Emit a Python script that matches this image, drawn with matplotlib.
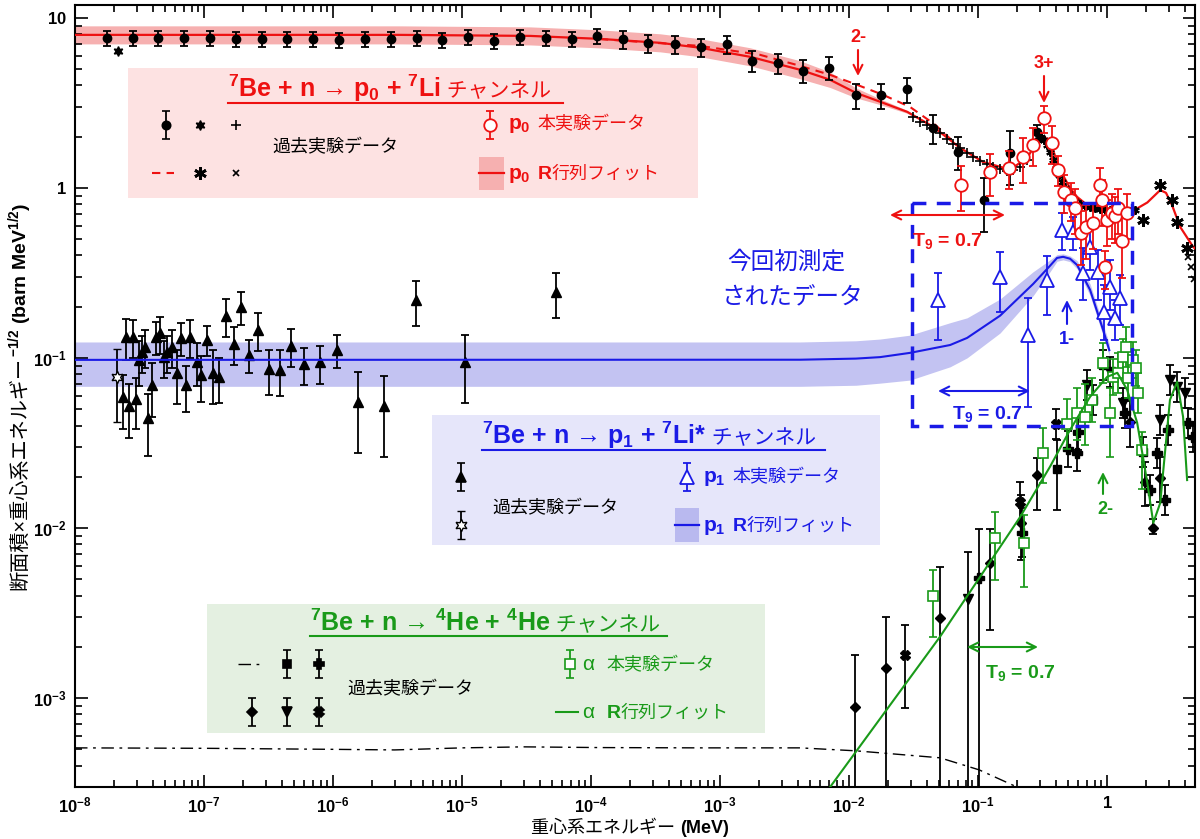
import numpy as np
import matplotlib
matplotlib.use("Agg")
import matplotlib.pyplot as plt
from matplotlib.patches import Rectangle
from matplotlib.ticker import LogLocator, FixedLocator, FuncFormatter, NullFormatter

plt.rcParams["font.family"] = ["Liberation Sans", "Noto Sans CJK JP", "DejaVu Sans"]
plt.rcParams["mathtext.fontset"] = "custom"
plt.rcParams["mathtext.rm"] = "Liberation Sans"
plt.rcParams["mathtext.it"] = "Liberation Sans:italic"
plt.rcParams["mathtext.bf"] = "Liberation Sans:bold"
plt.rcParams["mathtext.sf"] = "Liberation Sans"
plt.rcParams["mathtext.default"] = "bf"

RED = "#ee1111"
BLUE = "#1a1ae6"
GREEN = "#199a19"

# ---------------- p0 channel ----------------
# past data, filled circles (relative errors)
p0_hist_E = [1.77e-8, 2.82e-8, 4.4e-8, 7.0e-8, 1.11e-7, 1.77e-7, 2.82e-7, 4.4e-7, 7.0e-7,
             1.11e-6, 1.77e-6, 2.82e-6, 4.48e-6, 7.0e-6, 1.11e-5, 1.77e-5, 2.82e-5, 4.48e-5,
             7.13e-5, 1.11e-4, 1.77e-4, 2.77e-4, 4.48e-4, 7.13e-4, 1.13e-3, 1.77e-3, 2.82e-3,
             4.4e-3, 7.0e-3, 1.13e-2, 1.77e-2, 2.82e-2, 4.48e-2, 7.0e-2, 0.111, 0.177, 0.286]
p0_hist_v = [7.6, 7.6, 7.6, 7.6, 7.6, 7.5, 7.5, 7.5, 7.5, 7.4, 7.5, 7.5, 7.6, 7.4, 7.7, 7.3,
             7.7, 7.6, 7.5, 7.8, 7.5, 7.1, 7.0, 6.7, 7.0, 5.6, 5.4, 4.9, 5.1, 3.5, 3.5, 3.8,
             2.25, 1.63, 0.85, 1.6, 2.13]
p0_hist_err = [0.1] * 20 + [0.12] * 5 + [0.14, 0.14, 0.15, 0.15, 0.17, 0.17, 0.17, 0.19,
                                         0.22, 0.35, 0.35, 0.1]
p0_star_E = [2.15e-8]
p0_star_v = [6.4]
p0_plus_E = [0.0313, 0.0355, 0.0402, 0.0448, 0.0507, 0.0575, 0.064, 0.0724, 0.0822, 0.0914,
             0.104, 0.1175, 0.1306, 0.148, 0.168, 0.187, 0.212, 0.240]
p0_plus_v = [2.62, 2.44, 2.35, 2.25, 2.11, 1.94, 1.82, 1.72, 1.61, 1.52, 1.44, 1.38, 1.33,
             1.29, 1.26, 1.28, 1.33, 1.46]
p0_ast_E = [0.277, 0.292, 0.308, 0.325, 0.343, 0.361, 0.381, 0.403, 0.425, 0.448, 0.472,
            0.499, 0.526, 0.565, 0.618, 0.675, 0.738, 0.807, 0.883, 0.964, 1.055, 1.153,
            1.262, 1.38, 1.508, 1.648]
p0_ast_v = [1.79, 1.91, 2.0, 1.91, 1.79, 1.63, 1.46, 1.31, 1.19, 1.08, 1.0, 0.935, 0.885,
            0.839, 0.805, 0.784, 0.773, 0.76, 0.752, 0.743, 0.743, 0.743, 0.733, 0.733,
            0.733, 0.74]
p0_bigast_E = [1.90, 2.58, 3.19, 3.49, 4.17]
p0_bigast_v = [0.648, 1.04, 0.85, 0.63, 0.443]
p0_x_E = [4.25, 4.48, 4.72]
p0_x_v = [0.39, 0.34, 0.29]

# this experiment, open circles
p0_new_E = [0.0738, 0.124, 0.174, 0.223, 0.267, 0.325, 0.375, 0.417, 0.464, 0.526, 0.565,
            0.629, 0.687, 0.778, 0.883, 0.915, 0.964, 1.0, 1.09, 1.15, 1.22, 1.31, 1.43]
p0_new_v = [1.04, 1.24, 1.31, 1.52, 1.79, 2.58, 1.84, 1.28, 0.95, 0.85, 0.76, 0.54, 0.59,
            0.62, 1.04, 0.85, 0.34, 0.65, 0.71, 0.68, 0.76, 0.49, 0.71]
p0_new_err = [0.3, 0.28, 0.25, 0.3, 0.25, 0.18, 0.25, 0.2, 0.25, 0.25, 0.3, 0.35, 0.35, 0.3,
              0.25, 0.3, 0.25, 0.3, 0.3, 0.3, 0.3, 0.4, 0.3]

# R-matrix fit and band
p0_fit_E = [1e-8, 3.3e-6, 3.37e-5, 1.17e-4, 3.43e-4, 7.0e-4, 1.71e-3, 4.17e-3, 7.13e-3,
            0.0113, 0.0174, 0.0282, 0.0448, 0.0724, 0.109, 0.177, 0.240, 0.277, 0.300,
            0.319, 0.349, 0.381, 0.417, 0.456, 0.516, 0.585, 0.675, 0.778, 0.964, 1.20,
            1.59, 2.05, 2.58, 2.86, 3.19, 3.68, 4.64, 4.8]
p0_fit_v = [7.94, 7.94, 7.83, 7.52, 7.13, 6.67, 5.90, 4.95, 4.32, 3.62, 3.21, 2.80, 2.29,
            1.72, 1.42, 1.28, 1.50, 1.79, 1.95, 2.02, 1.92, 1.67, 1.37, 1.18, 1.0, 0.885,
            0.81, 0.773, 0.75, 0.743, 0.733, 0.82, 0.97, 0.935, 0.79, 0.59, 0.45, 0.44]
p0_band = [0.13] * 8 + [0.11, 0.07, 0.04, 0.02, 0.01] + [0.0] * 25
p0_dash_E = [1.17e-4, 7.0e-4, 2.04e-3, 4.17e-3, 7.13e-3, 0.0115, 0.0184, 0.0297, 0.0465, 0.0724]
p0_dash_v = [7.5, 6.84, 6.06, 5.22, 4.62, 4.04, 3.52, 2.99, 2.35, 1.72]

# ---------------- p1 channel ----------------
p1_hist_E = [2.48e-8, 2.82e-8, 2.36e-8, 2.62e-8, 2.97e-8, 3.13e-8, 3.30e-8, 3.49e-8, 3.68e-8,
             3.95e-8, 4.25e-8, 4.56e-8, 4.90e-8, 5.16e-8, 5.65e-8, 6.18e-8, 6.64e-8, 7.24e-8,
             7.78e-8, 8.83e-8, 9.48e-8, 1.05e-7, 1.17e-7, 1.31e-7, 1.48e-7, 1.71e-7, 1.94e-7,
             2.23e-7, 2.62e-7, 3.19e-7, 3.88e-7, 4.72e-7, 5.96e-7, 7.92e-7, 1.07e-6, 1.56e-6,
             2.48e-6, 4.40e-6, 1.05e-5, 5.36e-5]
p1_hist_v = [0.133, 0.133, 0.059, 0.052, 0.057, 0.097, 0.108, 0.116, 0.044, 0.069, 0.133,
             0.140, 0.101, 0.108, 0.116, 0.082, 0.131, 0.069, 0.133, 0.095, 0.079, 0.128,
             0.082, 0.077, 0.177, 0.121, 0.200, 0.104, 0.146, 0.086, 0.085, 0.118, 0.092,
             0.094, 0.111, 0.055, 0.052, 0.219, 0.095, 0.244]
p1_hist_err = [0.27, 0.25, 0.35, 0.35, 0.33, 0.30, 0.25, 0.25, 0.40, 0.35, 0.22, 0.25, 0.25,
               0.25, 0.25, 0.35, 0.22, 0.30, 0.25, 0.28, 0.30, 0.20, 0.35, 0.30, 0.25, 0.25,
               0.22, 0.22, 0.25, 0.30, 0.30, 0.25, 0.25, 0.25, 0.22, 0.50, 0.50, 0.30, 0.43,
               0.30]
p1_star_E = [2.12e-8]
p1_star_v = [0.077]
p1_star_err = [0.035]

p1_new_E = [0.049, 0.148, 0.244, 0.343, 0.448, 0.545, 0.651, 0.738, 0.851, 0.948, 1.055,
            1.15, 1.26]
p1_new_v = [0.219, 0.299, 0.136, 0.288, 0.566, 0.551, 0.316, 0.45, 0.32, 0.187, 0.262,
            0.172, 0.225]
p1_new_lo = [0.128, 0.187, 0.0515, 0.179, 0.432, 0.432, 0.219, 0.33, 0.219, 0.128, 0.191,
             0.128, 0.156]
p1_new_hi = [0.316, 0.42, 0.225, 0.398, 0.713, 0.67, 0.444, 0.566, 0.432, 0.269, 0.377,
             0.219, 0.308]

p1_fit_E = [1e-8, 4.17e-3, 0.0113, 0.0174, 0.0297, 0.0607, 0.0822, 0.148, 0.267, 0.361,
            0.409, 0.456, 0.516, 0.585, 0.738, 0.931, 1.04]
p1_fit_v = [0.0973, 0.0975, 0.0990, 0.101, 0.107, 0.119, 0.131, 0.177, 0.272, 0.348, 0.387,
            0.393, 0.383, 0.352, 0.251, 0.146, 0.111]
p1_band_lo = [0.068, 0.068, 0.069, 0.071, 0.074, 0.0886, 0.100, 0.140, 0.232, 0.321, 0.370,
              0.377, 0.368, 0.334, 0.232, 0.135, 0.103]
p1_band_hi = [0.124, 0.124, 0.126, 0.129, 0.136, 0.161, 0.172, 0.222, 0.321, 0.377, 0.405,
              0.409, 0.398, 0.373, 0.272, 0.158, 0.121]

# ---------------- alpha channel ----------------
a_new_E = [0.0448, 0.1355, 0.228, 0.319, 0.490, 0.585, 0.675, 0.765, 0.931, 1.055, 1.11,
           1.22, 1.33, 1.40, 1.45, 1.59, 1.68, 1.74, 1.87]
a_new_v = [3.98e-3, 8.73e-3, 8.17e-3, 0.0276, 0.0409, 0.0475, 0.045, 0.0566, 0.0935, 0.0475,
           0.0773, 0.0817, 0.1014, 0.116, 0.0762, 0.0973, 0.0873, 0.0622, 0.0288]
a_new_lo = [2.29e-3, 4.94e-3, 4.5e-3, 0.0184, 0.0292, 0.033, 0.0308, 0.0419, 0.0714, 0.0262,
            0.0606, 0.0624, 0.0795, 0.0886, 0.0582, 0.0762, 0.0684, 0.0475, 0.0169]
a_new_hi = [5.66e-3, 0.0124, 0.0119, 0.0387, 0.0574, 0.0667, 0.070, 0.0764, 0.1225, 0.0667,
            0.0985, 0.107, 0.129, 0.152, 0.0998, 0.124, 0.111, 0.0815, 0.0367]

a_dia_E = [0.0111, 0.0194, 0.0507, 0.124, 0.215, 0.286, 1.51, 1.97, 2.28, 2.58]
a_dia_v = [8.85e-4, 1.5e-3, 2.96e-3, 6.22e-3, 0.0107, 0.0205, 0.042, 0.0187, 0.0100, 0.0197]
a_dia_lo = [1e-5, 1e-5, 1e-5, 2.51e-3, 0.0065, 0.0128, 0.030, 0.0135, 0.0092, 0.0142]
a_dia_hi = [1.79e-3, 2.99e-3, 5.9e-3, 9.86e-3, 0.0157, 0.0258, 0.056, 0.0245, 0.0112, 0.026]

a_tri_E = [0.0835, 0.70, 1.055, 1.33, 2.58, 3.07, 3.49, 4.03]
a_tri_v = [3.82e-3, 0.0694, 0.0828, 0.0544, 0.0432, 0.0743, 0.0675, 0.0622]
a_tri_lo = [1e-5, 0.0567, 0.0676, 0.0444, 0.0353, 0.0607, 0.0551, 0.0508]
a_tri_hi = [7.22e-3, 0.085, 0.101, 0.0666, 0.0529, 0.091, 0.0827, 0.0762]

a_sq_E = [0.409, 0.778, 0.931, 1.90]
a_sq_v = [0.0222, 0.0566, 0.091, 0.028]
a_sq_lo = [0.0128, 0.0462, 0.0743, 0.0229]
a_sq_hi = [0.033, 0.0693, 0.111, 0.0343]

a_plus_E = [0.102, 0.219, 0.499, 0.596, 0.585, 1.38, 2.15, 2.44, 2.82, 2.97, 4.25, 4.6]
a_plus_v = [5.08e-3, 9.35e-3, 0.0292, 0.0367, 0.0276, 0.0475, 0.0167, 0.0276, 0.0146,
            0.0377, 0.0415, 0.0343]
a_plus_lo = [1e-5, 0.0067, 0.0229, 0.0288, 0.0216, 0.0388, 0.0136, 0.0225, 0.0119, 0.0308,
             0.0339, 0.028]
a_plus_hi = [9.86e-3, 0.0131, 0.0372, 0.0468, 0.0352, 0.0582, 0.0205, 0.0338, 0.0179,
             0.0462, 0.0508, 0.042]

a_x_E = [0.0272, 0.212, 0.403]
a_x_v = [1.79e-3, 0.0142, 0.0409]
a_x_lo = [8.73e-4, 0.0108, 0.0334]
a_x_hi = [2.69e-3, 0.0187, 0.0501]

a_fit_E = [7.13e-3, 0.0507, 0.212, 0.361, 0.516, 0.738, 1.0, 1.20, 1.43, 1.71, 2.05, 2.28,
           2.58, 3.07, 3.49, 3.88, 4.17]
a_fit_v = [2.99e-4, 2.29e-3, 0.0116, 0.0229, 0.0377, 0.059, 0.0773, 0.0817, 0.0649, 0.0415,
           0.0184, 0.0107, 0.014, 0.0566, 0.0723, 0.045, 0.0191]

a_dd_E = [1e-8, 1e-7, 1e-6, 3e-6, 1e-5, 3e-5, 1.17e-4, 7.0e-4, 4.17e-3, 0.0113, 0.0507,
          0.102, 0.2, 0.25]
a_dd_v = [5.08e-4, 5.05e-4, 4.98e-4, 4.94e-4, 5.08e-4, 5.15e-4, 5.1e-4, 5.08e-4, 5.08e-4,
          4.88e-4, 4.44e-4, 3.77e-4, 2.99e-4, 2.5e-4]

x_major = [1e-8, 1e-7, 1e-6, 1e-5, 1e-4, 1e-3, 1e-2, 1e-1, 1]
y_major = [1e-3, 1e-2, 1e-1, 1, 10]


fig = plt.figure(figsize=(12, 8.39), dpi=100)
ax = fig.add_axes([75 / 1200, 1 - 787 / 839, 1120 / 1200, 782 / 839])
ax.set_xscale("log")
ax.set_yscale("log")


def eb(E, v, lo, hi, **kw):
    v = np.array(v)
    ax.errorbar(E, v, yerr=[v - np.array(lo), np.array(hi) - v], ls="none", capsize=3,
                elinewidth=1.3, capthick=1.3, **kw)


def eb_rel(E, v, f, **kw):
    v = np.array(v)
    f = np.array(f)
    eb(E, v, v * (1 - f), v * (1 + f), **kw)


# bands and fits
p0v = np.array(p0_fit_v)
p0b = np.array(p0_band)
ax.fill_between(p0_fit_E, p0v / (1 + p0b), p0v * (1 + p0b), color="#f6b0b0", lw=0, zorder=1)
ax.fill_between(p1_fit_E, p1_band_lo, p1_band_hi, color="#c3c3f2", lw=0, zorder=1)
ax.plot(a_dd_E, a_dd_v, color="k", lw=1.0, ls=(0, (9, 4, 2, 4)), zorder=2)

# alpha channel
eb(a_dia_E, a_dia_v, a_dia_lo, a_dia_hi, fmt="", marker="D", ms=5, color="k", zorder=3)
eb(a_tri_E, a_tri_v, a_tri_lo, a_tri_hi, fmt="", marker="v", ms=7, color="k", zorder=3)
eb(a_sq_E, a_sq_v, a_sq_lo, a_sq_hi, fmt="", marker="s", ms=6, color="k", zorder=3)
eb(a_plus_E, a_plus_v, a_plus_lo, a_plus_hi, fmt="", marker="P", ms=7, color="k", zorder=3)
eb(a_x_E, a_x_v, a_x_lo, a_x_hi, fmt="", marker="X", ms=7, color="k", zorder=3)
eb(a_new_E, a_new_v, a_new_lo, a_new_hi, fmt="", marker="s", ms=7, color=GREEN, mfc="white",
   mew=1.2, zorder=4)
ax.plot(a_fit_E, a_fit_v, color=GREEN, lw=1.5, zorder=5)

# p1 channel
eb_rel(p1_hist_E, p1_hist_v, p1_hist_err, fmt="", marker="^", ms=7, color="k", zorder=3)
eb_rel(p1_star_E, p1_star_v, np.array(p1_star_err) / np.array(p1_star_v), fmt="",
       marker=(6, 1, 0), ms=9, color="k", mfc="white", mew=1.0, zorder=3)
ax.plot(p1_fit_E, p1_fit_v, color=BLUE, lw=1.5, zorder=5)
eb(p1_new_E, p1_new_v, p1_new_lo, p1_new_hi, fmt="", marker="^", ms=10, color=BLUE,
   mfc="white", mew=1.3, zorder=6)

# p0 channel
ax.plot(p0_fit_E, p0_fit_v, color=RED, lw=1.6, zorder=5)
ax.plot(p0_dash_E, p0_dash_v, color=RED, lw=1.5, ls=(0, (4, 3)), zorder=5)
eb_rel(p0_hist_E, p0_hist_v, p0_hist_err, fmt="", marker="o", ms=6, color="k", zorder=6)
ax.plot(p0_star_E, p0_star_v, ls="none", marker=(6, 1, 0), ms=7, color="k", zorder=6)
ax.plot(p0_plus_E, p0_plus_v, ls="none", marker="+", ms=7, mew=1.2, color="k", zorder=6)
ax.plot(p0_ast_E, p0_ast_v, ls="none", marker=(6, 2, 0), ms=6, mew=1.5, color="k", zorder=6)
ax.plot(p0_bigast_E, p0_bigast_v, ls="none", marker=(6, 2, 0), ms=9, mew=2, color="k",
        zorder=6)
ax.plot(p0_x_E, p0_x_v, ls="none", marker="x", ms=5, mew=1.2, color="k", zorder=6)
eb_rel(p0_new_E, p0_new_v, p0_new_err, fmt="", marker="o", ms=9, color=RED, mfc="white",
       mew=1.3, zorder=7)

ax.set_xlim(1e-8, 4.8)
ax.set_ylim(2.99e-4, 11.9)


def dec(v, pos):
    e = int(round(np.log10(v)))
    if e == 0:
        return "$1$"
    if e == 1:
        return "$10$"
    return "$10^{%d}$" % e


ax.xaxis.set_major_locator(FixedLocator(x_major))
ax.yaxis.set_major_locator(FixedLocator(y_major))
for axis in (ax.xaxis, ax.yaxis):
    axis.set_minor_locator(LogLocator(base=10, subs=np.arange(2, 10), numticks=20))
    axis.set_major_formatter(FuncFormatter(dec))
    axis.set_minor_formatter(NullFormatter())
ax.tick_params(which="both", direction="in", top=True, right=True, width=1.2)
ax.tick_params(which="major", length=9, labelsize=12, pad=6)
ax.tick_params(which="minor", length=5)
for s in ax.spines.values():
    s.set_linewidth(1.5)

# ---------------- overlay in pixel coordinates ----------------
ov = fig.add_axes([0, 0, 1, 1])
ov.set_xlim(0, 1200)
ov.set_ylim(839, 0)
ov.set_xticks([])
ov.set_yticks([])
ov.axis("off")
rend = fig.canvas.get_renderer()


def row(x, y, parts, color, center=False):
    texts = []
    for s, size, weight in parts:
        texts.append(ov.text(x, y, s, color=color, fontsize=size, fontweight=weight,
                             ha="left", va="baseline"))
    widths = [t.get_window_extent(rend).width for t in texts]
    if center:
        x = x - sum(widths) / 2
    for t, w in zip(texts, widths):
        t.set_x(x)
        x += w


def leg_eb(x, y, marker, color, ms, mfc, mew=1.2, half=14):
    ov.errorbar([x], [y], yerr=[[half], [half]], fmt="", ls="none", marker=marker, color=color,
                ms=ms, mfc=mfc, mec=color, mew=mew, capsize=3, elinewidth=1.3, capthick=1.3)


# red box
ov.add_patch(Rectangle((128, 68), 570, 130, fc="#fde2e2", ec="none"))
row(228, 97, [("$^{7}$Be + n → p$_{0}$ + $^{7}$Li", 18, "bold"),
              (" チャンネル", 15, "normal")], RED)
ov.plot([228, 563], [103, 103], color=RED, lw=1.5)
leg_eb(166, 125, "o", "k", 6, "k")
ov.plot([200], [125], marker=(6, 1, 0), ms=7, color="k")
ov.plot([236], [125], marker="+", ms=7, mew=1.2, color="k")
ov.plot([152, 174], [173, 173], color=RED, lw=1.5, ls=(0, (4, 3)))
ov.plot([200], [173], marker=(6, 2, 0), ms=9, mew=2, color="k")
ov.plot([236], [173], marker="x", ms=5, mew=1.2, color="k")
ov.text(272, 152, "過去実験データ", fontsize=13, color="k", va="baseline")
leg_eb(490, 125, "o", RED, 9, "white", mew=1.3)
row(508, 129, [("$p_0$  ", 15, "bold"), ("本実験データ", 13, "normal")], RED)
ov.add_patch(Rectangle((479, 157), 25, 33, fc="#f6b0b0", ec="none"))
ov.plot([479, 504], [173, 173], color=RED, lw=1.6)
row(508, 179, [("$p_0$  ", 15, "bold"), ("R", 14, "bold"), ("行列フィット", 13, "normal")], RED)

# blue box
ov.add_patch(Rectangle((432, 415), 448, 130, fc="#e6e6fa", ec="none"))
row(482, 444, [("$^{7}$Be + n → p$_{1}$ + $^{7}$Li*", 18, "bold"),
               (" チャンネル", 15, "normal")], BLUE)
ov.plot([482, 825], [450, 450], color=BLUE, lw=1.5)
leg_eb(461, 477, "^", "k", 7, "k")
leg_eb(461, 525, (6, 1, 0), "k", 9, "white", mew=1.0)
ov.text(492, 513, "過去実験データ", fontsize=13, color="k", va="baseline")
leg_eb(687, 477, "^", BLUE, 10, "white", mew=1.3)
row(703, 482, [("$p_1$  ", 15, "bold"), ("本実験データ", 13, "normal")], BLUE)
ov.add_patch(Rectangle((675, 508), 24, 34, fc="#b9b9ef", ec="none"))
ov.plot([675, 699], [525, 525], color=BLUE, lw=1.6)
row(703, 531, [("$p_1$  ", 15, "bold"), ("R", 14, "bold"), ("行列フィット", 13, "normal")], BLUE)

# green box
ov.add_patch(Rectangle((207, 604), 558, 129, fc="#e4f0e1", ec="none"))
row(310, 631, [("$^{7}$Be + n → $^{4}$He + $^{4}$He", 18, "bold"),
               (" チャンネル", 15, "normal")], GREEN)
ov.plot([310, 667], [636, 636], color=GREEN, lw=1.5)
ov.plot([238, 260], [664, 664], color="k", lw=1.0, ls=(0, (9, 4, 2, 4)))
leg_eb(287, 664, "s", "k", 6, "k")
leg_eb(319, 664, "P", "k", 7, "k")
leg_eb(252, 712, "D", "k", 5, "k")
leg_eb(287, 712, "v", "k", 7, "k")
leg_eb(319, 712, "X", "k", 7, "k")
ov.text(347, 694, "過去実験データ", fontsize=13, color="k", va="baseline")
leg_eb(570, 664, "s", GREEN, 7, "white")
row(583, 670, [("α  ", 15, "normal"), ("本実験データ", 13, "normal")], GREEN)
ov.plot([556, 578], [712, 712], color=GREEN, lw=1.5)
row(583, 718, [("α  ", 15, "normal"), ("R", 14, "bold"), ("行列フィット", 13, "normal")],
    GREEN)

# annotations
arw = dict(arrowstyle="->", lw=1.5, shrinkA=0, shrinkB=0, mutation_scale=16)
dbl = dict(arrowstyle="<->", lw=1.5, shrinkA=0, shrinkB=0, mutation_scale=16)
ov.annotate("", xy=(858, 76), xytext=(858, 50), arrowprops=dict(arw, color=RED))
ov.text(858, 38, "2-", color=RED, fontsize=13, fontweight="bold", ha="center", va="center")
ov.annotate("", xy=(1044, 103), xytext=(1044, 76), arrowprops=dict(arw, color=RED))
ov.text(1044, 64, "3+", color=RED, fontsize=13, fontweight="bold", ha="center", va="center")
ov.annotate("", xy=(890, 215), xytext=(1005, 215), arrowprops=dict(dbl, color=RED))
ov.text(912, 246, "$T_9$ = 0.7", color=RED, fontsize=14, fontweight="bold", va="baseline")

ov.add_patch(Rectangle((912, 203), 220, 223, fill=False, ec=BLUE, lw=2.5,
                       ls=(0, (4, 3))))
ov.text(727, 262, "今回初測定", color=BLUE, fontsize=17, va="center")
ov.text(721, 298, "されたデータ", color=BLUE, fontsize=17, va="center")
ov.annotate("", xy=(1067, 300), xytext=(1067, 324), arrowprops=dict(arw, color=BLUE))
ov.text(1067, 340, "1-", color=BLUE, fontsize=13, fontweight="bold", ha="center", va="center")
ov.annotate("", xy=(938, 391), xytext=(1030, 391), arrowprops=dict(dbl, color=BLUE))
ov.text(952, 419, "$T_9$ = 0.7", color=BLUE, fontsize=14, fontweight="bold", va="baseline")

ov.annotate("", xy=(1103, 472), xytext=(1103, 494), arrowprops=dict(arw, color=GREEN))
ov.text(1105, 510, "2-", color=GREEN, fontsize=13, fontweight="bold", ha="center",
        va="center")
ov.annotate("", xy=(967, 647), xytext=(1038, 647), arrowprops=dict(dbl, color=GREEN))
ov.text(985, 678, "$T_9$ = 0.7", color=GREEN, fontsize=14, fontweight="bold", va="baseline")

# axis titles
row(630, 833, [("重心系エネルギー ", 13, "normal"), ("(MeV)", 13, "bold")], "k", center=True)
ta = ov.text(20, 396, "断面積×重心系エネルギー", fontsize=14.5, rotation=90, ha="center",
             va="bottom")
tb = ov.text(20, 396, "$^{-1/2}$ (barn MeV$^{1/2}$)", fontsize=14, fontweight="bold",
             rotation=90, ha="center", va="bottom")
ha_ = ta.get_window_extent(rend).height
hb_ = tb.get_window_extent(rend).height
y0 = 396 + (ha_ + hb_) / 2
ta.set_y(y0)
tb.set_y(y0 - ha_)

fig.savefig("out.png", dpi=100)
